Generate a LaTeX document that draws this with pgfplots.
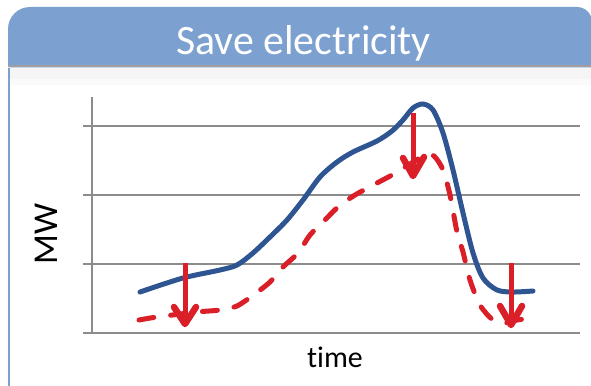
\documentclass[border=0pt]{standalone}
\usepackage{pgfplots}
\pgfplotsset{compat=1.18}
\usepackage{fontspec}
\setmainfont{Carlito}[Ligatures={NoCommon,NoRequired,NoContextual}]
\definecolor{hdr}{RGB}{124,160,207}
\definecolor{curveblue}{RGB}{46,85,145}
\definecolor{curvered}{RGB}{218,31,40}
\definecolor{gridgray}{RGB}{140,140,140}
\begin{document}
\begin{tikzpicture}[x=1bp,y=1bp]
\useasboundingbox (0,0) rectangle (591,385);
\begin{scope}
\clip (0,0) rectangle (591,385);
\fill[white] (0,0) rectangle (591,385);
% header band
\fill[hdr] (8,320) -- (8,356) arc[start angle=180,end angle=90,radius=22] -- (577,378) arc[start angle=90,end angle=0,radius=15] -- (592,320) -- cycle;
\fill[gray!8] (8,306) rectangle (600,318);
\fill[gray!4] (8,300) rectangle (600,306);
\draw[gray!75, line width=1.6] (8,319) -- (600,319);
\draw[hdr, line width=1.6] (8.8,317) -- (8.8,-2);
\draw[hdr!40, line width=1] (8.8,317.5) -- (600,317.5);
\node[anchor=base, text=white, font=\fontsize{42}{48}\selectfont, inner sep=0pt] at (303.5,331) {Save electricity};
\end{scope}
\begin{axis}[
  at={(92,52)}, anchor=south west,
  scale only axis, width=488bp, height=236bp,
  xmin=92, xmax=580, ymin=0, ymax=236,
  axis x line=none,
  axis y line=left,
  y axis line style={-, gridgray, line width=1.6bp},
  ytick={0,69,138,207}, yticklabels={},
  ytick pos=left,
  tick align=outside, major tick length=9bp,
  tick style={gridgray, line width=1.6bp},
  ymajorgrids, grid style={gridgray, line width=1.6bp},
  clip=false,
]
\addplot[curveblue, line width=5bp, smooth, tension=0.5, line cap=round] coordinates {
(140,41) (183,55) (220,63) (237,68) (253,80) (270,96) (287,113) (303,133) (320,156) (337,171) (353,181) (377,192) (392,202) (403,213) (413,225) (423,229) (433,223) (443,200) (453,163) (463,120) (473,80) (483,55) (497,43) (513,41) (533,42)
};
\addplot[curvered, line width=5bp, smooth, tension=0.5, line cap=round, dash pattern=on 15bp off 17bp] coordinates {
(139,13) (157,16) (197,21) (220,23) (237,27) (256,40) (270,51) (283,66) (298,80) (310,98) (323,111) (338,126) (355,138) (377,150) (392,158) (410,169) (425,178) (434,177) (443,163) (450,138) (457,101) (463,81) (470,53) (480,28) (493,13) (505,10) (517,13) (533,15)
};
% arrows: shafts
\addplot[curvered, line width=5bp] coordinates {(185,70) (185,11)};
\addplot[curvered, line width=5bp] coordinates {(413,220) (413,159)};
\addplot[curvered, line width=5bp] coordinates {(511,70) (511,10)};
% arrows: heads
\addplot[curvered, line width=6.5bp, line join=round, line cap=round] coordinates {(174,26) (185,9) (196,26)};
\addplot[curvered, line width=6.5bp, line join=round, line cap=round] coordinates {(403,175) (413,157) (424,176)};
\addplot[curvered, line width=6.5bp, line join=round, line cap=round] coordinates {(500,27) (511,8) (522,27)};
\end{axis}
\node[rotate=90, font=\fontsize{35}{40}\selectfont, inner sep=0pt] at (46,151) {MW};
\node[anchor=base, font=\fontsize{30}{36}\selectfont, inner sep=0pt] at (335,18) {time};
\end{tikzpicture}
\end{document}
